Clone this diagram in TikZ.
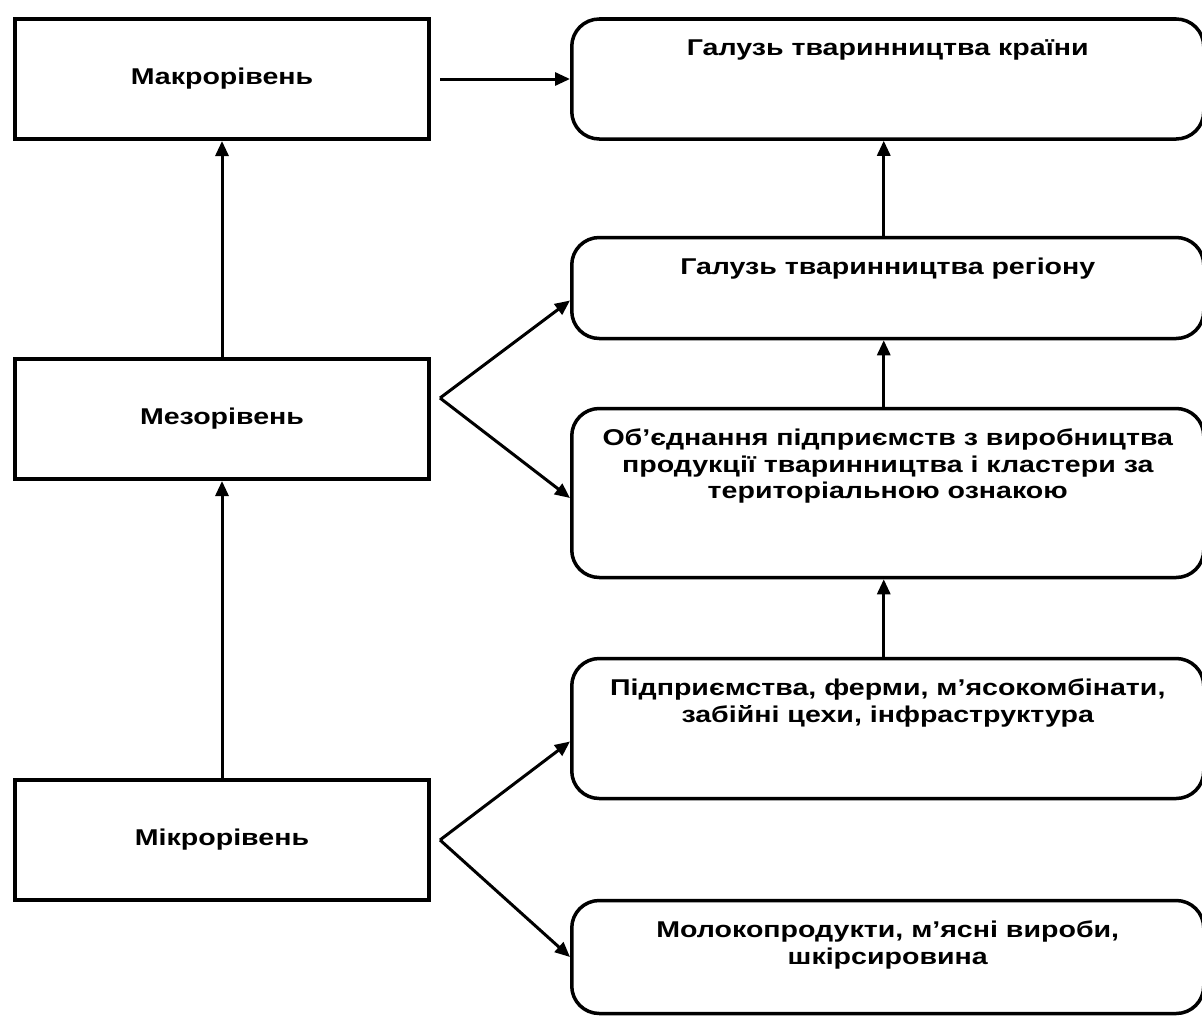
\documentclass[tikz,border=0pt]{standalone}
\usepackage{fontspec}
\setmainfont{Liberation Sans}[FakeStretch=1.25]
\usetikzlibrary{positioning}
\usetikzlibrary{calc}
\usetikzlibrary{arrows.meta}

\begin{document}
\begin{tikzpicture}[node distance=2cm,>={Triangle[length=0.3cm,width=0.26cm]}]
        \tikzstyle{every node}=[font=\bfseries\fontsize{13}{15.1}\selectfont]
        \tikzstyle{rivenbox}=[draw, line width=0.08cm, minimum width=8.28cm, minimum height=2.4cm, inner sep=0pt]
        \tikzstyle{galuzbox}=[draw, line width=0.07cm, rounded corners=0.55cm, minimum width=12.64cm, inner sep=0pt]
        \tikzstyle{galuztext}=[anchor=north, align=center, inner sep=0pt, yshift=-0.44cm]
        \tikzstyle{link}=[line width=0.06cm]
        \useasboundingbox (0,0) rectangle (24.04,-20.32);
        % rivni
        \node[rivenbox, anchor=north west] (makro) at (0.26,-0.34) {Макрорівень};
        \node[rivenbox, below=4.32cm of makro] (mezo) {Мезорівень};
        \node[rivenbox, below=5.94cm of mezo] (mikro) {Мікрорівень};
        % galuz
        \node[galuzbox, minimum height=2.4cm, right=2.78cm of makro, label={[galuztext]north:Галузь тваринництва країни}] (kraina) {};
        \node[galuzbox, minimum height=2.02cm, below=1.9cm of kraina, label={[galuztext]north:Галузь тваринництва регіону}] (region) {};
        \node[galuzbox, minimum height=3.38cm, below=1.33cm of region, label={[galuztext]north:Об’єднання підприємств з виробництва\\ продукції тваринництва і кластери за\\ територіальною ознакою}] (obiednannia) {};
        \node[galuzbox, minimum height=2.8cm, below=1.55cm of obiednannia, label={[galuztext]north:Підприємства, ферми, м’ясокомбінати,\\ забійні цехи, інфраструктура}] (pidpryiemstva) {};
        \node[galuzbox, minimum height=2.26cm, below=1.97cm of pidpryiemstva, label={[galuztext]north:Молокопродукти, м’ясні вироби,\\ шкірсировина}] (produktsiia) {};
        \coordinate (mezofork) at ($(mezo.east)+(0.18,0.42)$);
        \coordinate (mikrofork) at ($(mikro.east)+(0.18,0)$);
        \path [->,draw,link,shorten <=0.18cm] (makro) -- (kraina);
        \path [->,draw,link] (mezo) -- (makro);
        \path [->,draw,link] (mikro) -- (mezo);
        \path [->,draw,link] ([xshift=-0.08cm]region.north) -- ([xshift=-0.08cm]kraina.south);
        \path [->,draw,link] ([xshift=-0.08cm]obiednannia.north) -- ([xshift=-0.08cm]region.south);
        \path [->,draw,link] ([xshift=-0.08cm]pidpryiemstva.north) -- ([xshift=-0.08cm]obiednannia.south);
        \path [->,draw,link] (mezofork) -- ([yshift=-0.25cm]region.west);
        \path [->,draw,link] (mezofork) -- ([yshift=-0.1cm]obiednannia.west);
        \path [->,draw,link] (mikrofork) -- ([yshift=-0.26cm]pidpryiemstva.west);
        \path [->,draw,link] (mikrofork) -- (produktsiia.west);
      \end{tikzpicture}
\end{document}
